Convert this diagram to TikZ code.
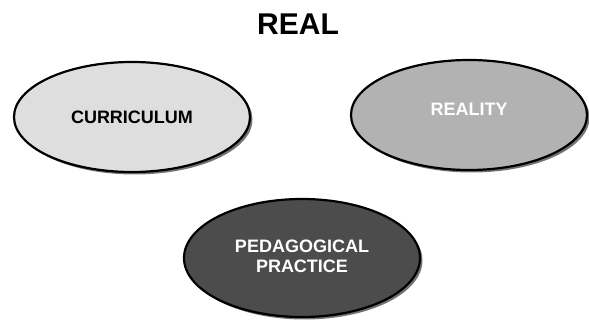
\documentclass[tikz,border=0pt]{standalone}
\usepackage{fontspec}
\setmainfont{Liberation Sans}
\usetikzlibrary{shapes.geometric,shadows,positioning}
\colorlet{colorCU}{black!13}
\colorlet{colorRE}{black!30}
\colorlet{colorPP}{black!70}
\tikzset{
   every picture/.style={x=1pt,y=1pt},
   oval/.style={ellipse,draw=black,line width=2.2pt,minimum width=236pt,minimum height=110pt,inner sep=0pt,align=center,font=\bfseries\fontsize{18}{20}\selectfont,drop shadow={shadow xshift=2.5pt,shadow yshift=-2.5pt,fill=black!55,opacity=1}},
   title/.style={font=\bfseries\fontsize{30}{34}\selectfont},
}

\begin{document}
\begin{tikzpicture}
      \useasboundingbox (0,0) rectangle (589,-320);

      \node (real) [title]
      at (298,-24)
      {REAL};

      \node (curr) [oval, fill=colorCU, text=black]
      at (132,-117)
      {CURRICULUM};

      \node (reality) [oval, fill=colorRE, text=white, text depth=12pt]
      at (469,-115)
      {REALITY};

      \node (ped) [oval, fill=colorPP, text=white, minimum height=118pt, text depth=4pt]
      at (302,-258)
      {PEDAGOGICAL\\PRACTICE};
\end{tikzpicture}
\end{document}
